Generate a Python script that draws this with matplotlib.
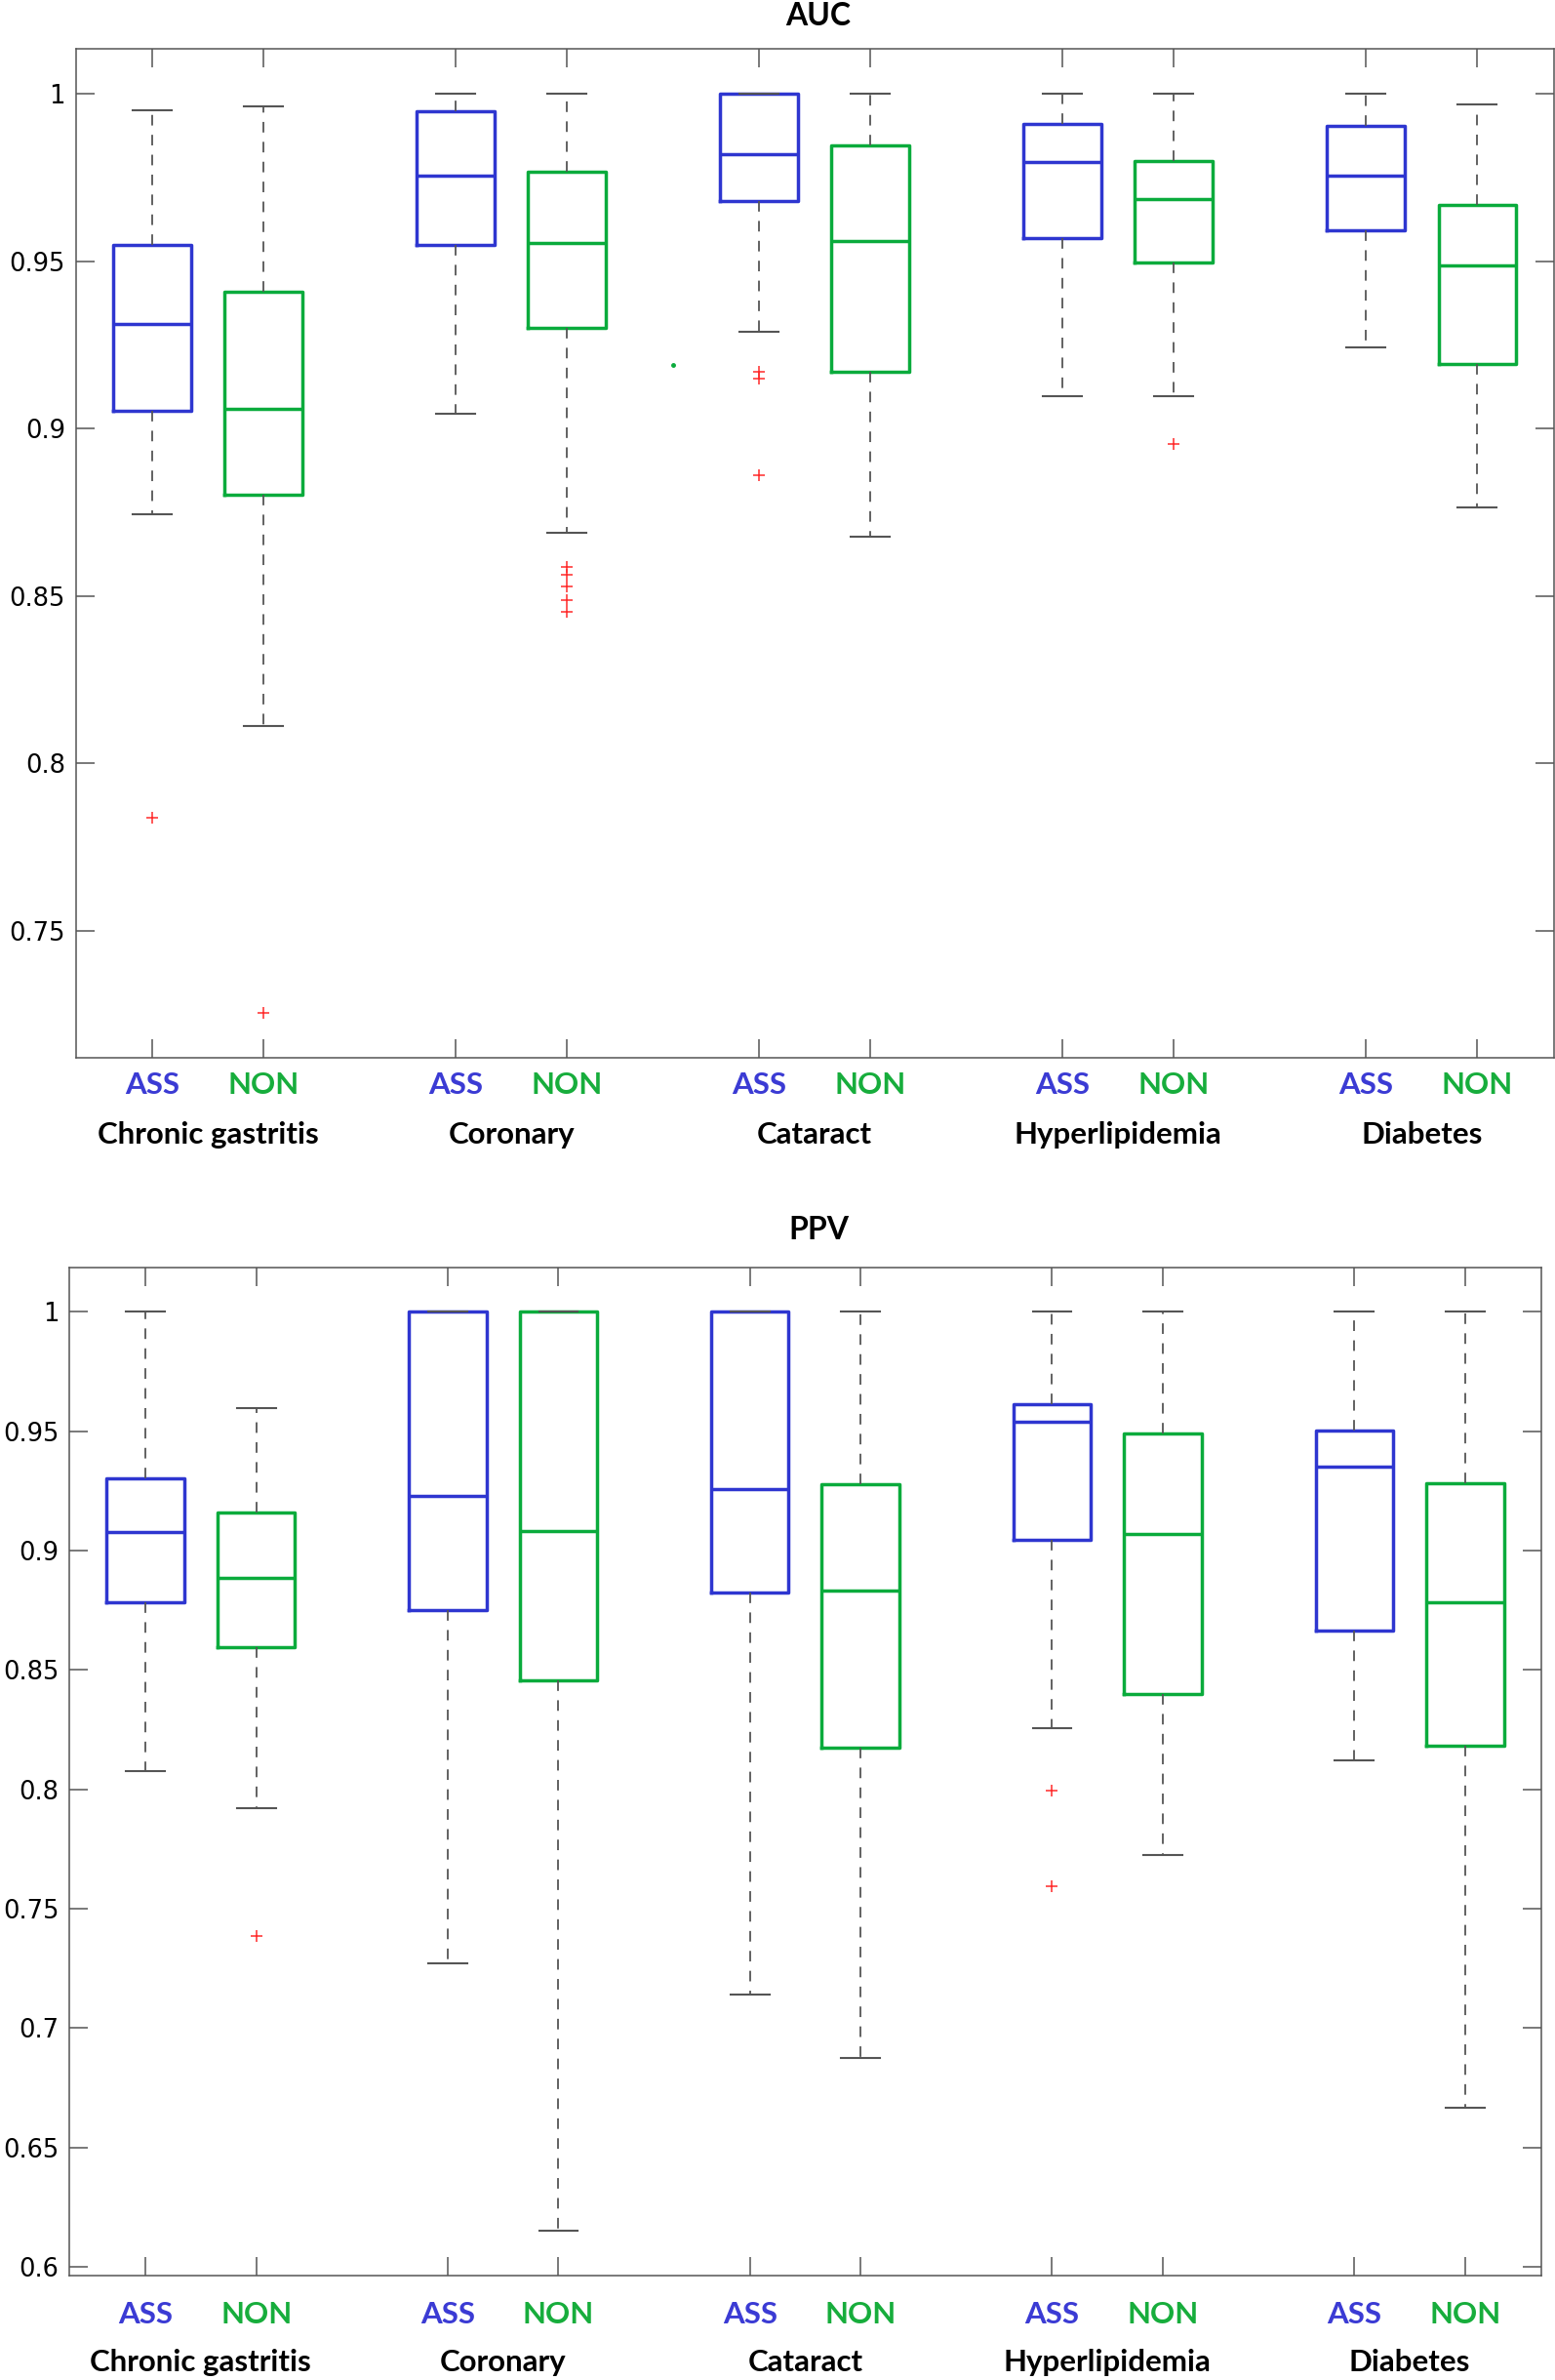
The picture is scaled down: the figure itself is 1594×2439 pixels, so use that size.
import matplotlib
matplotlib.use('Agg')
import matplotlib.pyplot as plt

# %% data: (lower whisker, Q1, median, Q3, upper whisker)

groups = ['Chronic gastritis', 'Coronary', 'Cataract', 'Hyperlipidemia', 'Diabetes']
methods = ['ASS', 'NON']

auc_ass = [
    [0.8745, 0.9052, 0.9313, 0.9550, 0.9951],
    [0.9045, 0.9548, 0.9757, 0.9949, 1.0000],
    [0.9290, 0.9679, 0.9820, 1.0000, 1.0000],
    [0.9098, 0.9570, 0.9798, 0.9910, 1.0000],
    [0.9243, 0.9593, 0.9757, 0.9904, 1.0000],
]
auc_ass_fliers = [[0.7837], [], [0.9169, 0.9148, 0.8861], [], []]
auc_non = [
    [0.8111, 0.8803, 0.9060, 0.9408, 0.9964],
    [0.8689, 0.9300, 0.9556, 0.9767, 1.0000],
    [0.8678, 0.9171, 0.9560, 0.9846, 1.0000],
    [0.9098, 0.9495, 0.9687, 0.9800, 1.0000],
    [0.8764, 0.9194, 0.9488, 0.9668, 0.9969],
]
auc_non_fliers = [[0.7253], [0.8587, 0.8564, 0.8529, 0.8487, 0.8451], [], [0.8954], []]
# small green dot between Coronary and Cataract
auc_stray_x = [5.68]
auc_stray_y = [0.919]

ppv_ass = [
    [0.8075, 0.8782, 0.9079, 0.9304, 1.0000],
    [0.7271, 0.8750, 0.9229, 1.0000, 1.0000],
    [0.7139, 0.8826, 0.9257, 1.0000, 1.0000],
    [0.8257, 0.9046, 0.9539, 0.9613, 1.0000],
    [0.8122, 0.8666, 0.9351, 0.9501, 1.0000],
]
ppv_ass_fliers = [[], [], [], [0.7995, 0.7595], []]
ppv_non = [
    [0.7922, 0.8597, 0.8885, 0.9159, 0.9596],
    [0.6152, 0.8455, 0.9083, 1.0000, 1.0000],
    [0.6873, 0.8173, 0.8832, 0.9276, 1.0000],
    [0.7725, 0.8398, 0.9068, 0.9490, 1.0000],
    [0.6666, 0.8184, 0.8785, 0.9282, 1.0000],
]
ppv_non_fliers = [[0.7385], [], [], [], []]

auc_ticks = [0.75, 0.8, 0.85, 0.9, 0.95, 1.0]
ppv_ticks = [0.6, 0.65, 0.7, 0.75, 0.8, 0.85, 0.9, 0.95, 1.0]

# %% style

box_colors = ['#2e36d0', '#0aab3c']
label_colors = ['#3b3bd4', '#17ad3c']
gray = '#555555'
gap = 2.728  # distance between disease groups (pair spacing = 1)
label_font = 'Lato'

plt.rcParams['font.family'] = ['DejaVu Sans']


def draw_panel(ax, ass, ass_fl, non, non_fl, ticks, ylim, pad_small, pad_big):
    stats = []
    positions = []
    for i in range(len(groups)):
        for j, (s, f) in enumerate([(ass[i], ass_fl[i]), (non[i], non_fl[i])]):
            stats.append(dict(whislo=s[0], q1=s[1], med=s[2], q3=s[3], whishi=s[4], fliers=f))
            positions.append(1 + j + gap * i)

    res = ax.bxp(stats, positions=positions, widths=0.7, showfliers=True,
                 boxprops=dict(lw=2.5),
                 medianprops=dict(lw=2.5),
                 whiskerprops=dict(color=gray, lw=1.3, linestyle=(0, (6, 5.3))),
                 capprops=dict(color=gray, lw=1.5),
                 flierprops=dict(marker='+', markeredgecolor='#ff2a2a', markersize=9, mew=1.1))
    for k in range(len(stats)):
        res['boxes'][k].set_color(box_colors[k % 2])
        res['medians'][k].set_color(box_colors[k % 2])

    ax.set_xlim(0.316, 13.6)
    ax.set_ylim(*ylim)
    ax.set_yticks(ticks)
    ax.set_yticklabels(['%g' % t for t in ticks])
    ax.set_xticks(positions)
    ax.set_xticklabels([''] * len(positions))
    ax.tick_params(direction='in', length=13.7, width=1.1, color=gray,
                   top=True, right=True, labelsize=18.5, pad=8)
    for sp in ax.spines.values():
        sp.set_color(gray)
        sp.set_linewidth(1.1)

    # method labels under each box and disease names under each pair
    for k, p in enumerate(positions):
        ax.annotate(methods[k % 2], xy=(p, 0), xycoords=('data', 'axes fraction'),
                    xytext=(0, -pad_small), textcoords='offset points',
                    ha='center', va='top', fontsize=22.5, fontweight='bold',
                    family=label_font, color=label_colors[k % 2])
    for i, g in enumerate(groups):
        mid = 1.5 + gap * i
        ax.annotate(g, xy=(mid, 0), xycoords=('data', 'axes fraction'),
                    xytext=(0, -pad_big), textcoords='offset points',
                    ha='center', va='top', fontsize=22.5, fontweight='bold',
                    family=label_font, color='black')


fig = plt.figure(figsize=(15.94, 24.39), dpi=100)

ax1 = fig.add_axes([0.0489, 0.5556, 0.9504, 0.4239])
draw_panel(ax1, auc_ass, auc_ass_fliers, auc_non, auc_non_fliers,
           auc_ticks, (0.712, 1.0135), 10, 47)
ax1.plot(auc_stray_x, auc_stray_y, 'o', color=box_colors[1], markersize=2.5)

ax2 = fig.add_axes([0.0448, 0.0440, 0.9464, 0.4235])
draw_panel(ax2, ppv_ass, ppv_ass_fliers, ppv_non, ppv_non_fliers,
           ppv_ticks, (0.5965, 1.0186), 19, 54)

fig.text(839 / 1594, 1 - 16 / 2439, 'AUC', ha='center', va='center',
         fontsize=23, fontweight='bold', family=label_font)
fig.text(839 / 1594, 1 - 1260 / 2439, 'PPV', ha='center', va='center',
         fontsize=23, fontweight='bold', family=label_font)

fig.savefig('out.png', dpi=100)
